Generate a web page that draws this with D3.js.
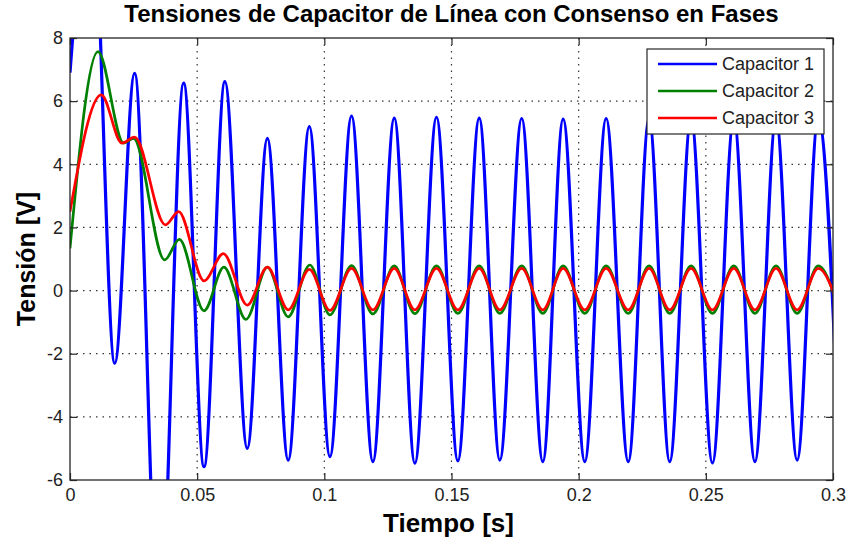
<!DOCTYPE html>
<html>
<head>
<meta charset="utf-8">
<script src="https://cdn.jsdelivr.net/npm/d3@7"></script>
<style>
  body { margin: 0; background: #fff; }
  svg { display: block; font-family: "Liberation Sans", Arial, Helvetica, sans-serif; }
</style>
</head>
<body>
<div id="chart"></div>
<script>
// tick values and labels
var xTicks = [0, 0.05, 0.1, 0.15, 0.2, 0.25, 0.3];
var xTickLabels = ["0", "0.05", "0.1", "0.15", "0.2", "0.25", "0.3"];
var yTicks = [-6, -4, -2, 0, 2, 4, 6, 8];
var yTickLabels = ["-6", "-4", "-2", "0", "2", "4", "6", "8"];

var seriesNames = ["Capacitor 1", "Capacitor 2", "Capacitor 3"];

// turning points (time in s, voltage in V)
var tCap1 = [0, 0.0085, 0.0176, 0.0254, 0.0351, 0.0447, 0.0527, 0.0609, 0.0697, 0.0776,
             0.0858, 0.0941, 0.1022, 0.1107, 0.1191, 0.1275, 0.1356, 0.1441, 0.1525, 0.1609,
             0.1690, 0.1776, 0.1859, 0.1939, 0.2024, 0.2108, 0.2195, 0.2277, 0.2358, 0.2442,
             0.2526, 0.2610, 0.2693, 0.2776, 0.2859, 0.2942, 0.3026];
var vCap1 = [6.9, 13, -2.3, 6.88, -11, 6.57, -5.58, 6.62, -5.0, 4.82,
             -5.37, 5.19, -5.26, 5.53, -5.42, 5.46, -5.47, 5.49, -5.39, 5.46,
             -5.37, 5.45, -5.42, 5.43, -5.42, 5.45, -5.42, 5.44, -5.42, 5.46,
             -5.46, 5.45, -5.42, 5.44, -5.37, 5.46, -5.4];

var tCap2 = [0, 0.0110, 0.0211, 0.0250, 0.0372, 0.0430, 0.0527, 0.0605, 0.0692, 0.0776,
             0.0858, 0.0943, 0.1022, 0.1107, 0.1191, 0.1275, 0.1356, 0.1441, 0.1525, 0.1609,
             0.1690, 0.1776, 0.1859, 0.1939, 0.2024, 0.2108, 0.2195, 0.2277, 0.2358, 0.2442,
             0.2526, 0.2610, 0.2693, 0.2776, 0.2859, 0.2942, 0.3026];
var vCap2 = [1.34, 7.57, 4.67, 4.82, 0.97, 1.62, -0.64, 0.74, -0.91, 0.74,
             -0.83, 0.81, -0.77, 0.79, -0.74, 0.78, -0.73, 0.78, -0.72, 0.78,
             -0.72, 0.78, -0.72, 0.78, -0.72, 0.78, -0.72, 0.78, -0.72, 0.78,
             -0.72, 0.78, -0.72, 0.78, -0.72, 0.78, -0.72];

var tCap3 = [0, 0.0123, 0.0204, 0.0254, 0.0375, 0.0427, 0.0527, 0.0603, 0.0697, 0.0776,
             0.0858, 0.0941, 0.1022, 0.1107, 0.1191, 0.1275, 0.1356, 0.1441, 0.1525, 0.1609,
             0.1690, 0.1776, 0.1859, 0.1939, 0.2024, 0.2108, 0.2195, 0.2277, 0.2358, 0.2442,
             0.2526, 0.2610, 0.2693, 0.2776, 0.2859, 0.2942, 0.3026];
var vCap3 = [2.5, 6.2, 4.67, 4.86, 2.08, 2.5, 0.31, 1.17, -0.46, 0.74,
             -0.61, 0.67, -0.63, 0.70, -0.61, 0.70, -0.61, 0.70, -0.61, 0.70,
             -0.61, 0.70, -0.61, 0.70, -0.61, 0.70, -0.61, 0.70, -0.61, 0.70,
             -0.61, 0.70, -0.61, 0.70, -0.61, 0.70, -0.61];

var colors = ["#0000ff", "#008000", "#ff0000"];

var width = 847, height = 543;
var plotLeft = 70, plotRight = 833, plotTop = 38, plotBottom = 480;

var svg = d3.select("#chart").append("svg").attr("width", width).attr("height", height);

var x = d3.scaleLinear().domain([0, 0.3]).range([plotLeft, plotRight]);
var y = d3.scaleLinear().domain([-6, 8]).range([plotBottom, plotTop]);

svg.append("defs").append("clipPath").attr("id", "plotClip")
   .append("rect").attr("x", plotLeft).attr("y", plotTop)
   .attr("width", plotRight - plotLeft).attr("height", plotBottom - plotTop);

// dotted grid
var grid = svg.append("g").attr("stroke", "#333").attr("stroke-width", 1.2)
              .attr("stroke-dasharray", "1.5,5");
grid.selectAll(".gx").data(xTicks.slice(1, -1)).enter().append("line")
    .attr("x1", function(d) { return x(d); }).attr("x2", function(d) { return x(d); })
    .attr("y1", plotTop).attr("y2", plotBottom);
grid.selectAll(".gy").data(yTicks.slice(1, -1)).enter().append("line")
    .attr("y1", function(d) { return y(d); }).attr("y2", function(d) { return y(d); })
    .attr("x1", plotLeft).attr("x2", plotRight);

// curves
var line = d3.line()
    .x(function(d) { return x(d[0]); })
    .y(function(d) { return y(d[1]); })
    .curve(d3.curveMonotoneX);

var series = [d3.zip(tCap1, vCap1), d3.zip(tCap2, vCap2), d3.zip(tCap3, vCap3)];
var widths = [3.2, 2.7, 2.7];

svg.append("g").attr("clip-path", "url(#plotClip)")
   .selectAll("path").data(series).enter().append("path")
   .attr("d", line)
   .attr("fill", "none")
   .attr("stroke", function(d, i) { return colors[i]; })
   .attr("stroke-width", function(d, i) { return widths[i]; })
   .attr("stroke-linejoin", "round");

// axes, ticks inward on all four sides
var axisColor = "#262626";
var styleAxis = function(g) {
    g.select(".domain").remove();
    g.selectAll(".tick line").attr("stroke", axisColor).attr("stroke-width", 1.2);
    g.selectAll(".tick text").attr("fill", "#222").style("font-size", "18px")
     .style("font-family", "'Liberation Sans', Arial, sans-serif");
};

svg.append("g").attr("transform", "translate(0," + plotBottom + ")")
   .call(d3.axisBottom(x).tickValues(xTicks).tickSize(-7).tickPadding(8)
        .tickFormat(function(d, i) { return xTickLabels[i]; }))
   .call(styleAxis);
svg.append("g").attr("transform", "translate(0," + plotTop + ")")
   .call(d3.axisTop(x).tickValues(xTicks).tickSize(-7).tickFormat(""))
   .call(styleAxis);
svg.append("g").attr("transform", "translate(" + plotLeft + ",0)")
   .call(d3.axisLeft(y).tickValues(yTicks).tickSize(-7).tickPadding(7)
        .tickFormat(function(d, i) { return yTickLabels[i]; }))
   .call(styleAxis);
svg.append("g").attr("transform", "translate(" + plotRight + ",0)")
   .call(d3.axisRight(y).tickValues(yTicks).tickSize(-7).tickFormat(""))
   .call(styleAxis);

svg.append("rect").attr("x", plotLeft).attr("y", plotTop)
   .attr("width", plotRight - plotLeft).attr("height", plotBottom - plotTop)
   .attr("fill", "none").attr("stroke", axisColor).attr("stroke-width", 1.3);

// titles
svg.append("text").attr("x", (plotLeft + plotRight) / 2).attr("y", 22)
   .attr("text-anchor", "middle").attr("font-weight", "bold").attr("font-size", 24)
   .text("Tensiones de Capacitor de Línea con Consenso en Fases");
svg.append("text").attr("x", (plotLeft + plotRight) / 2 - 3).attr("y", 532)
   .attr("text-anchor", "middle").attr("font-weight", "bold").attr("font-size", 26)
   .text("Tiempo [s]");
svg.append("text")
   .attr("transform", "translate(35," + ((plotTop + plotBottom) / 2) + ") rotate(-90)")
   .attr("text-anchor", "middle").attr("font-weight", "bold").attr("font-size", 25)
   .text("Tensión [V]");

// legend
var legend = svg.append("g");
legend.append("rect").attr("x", 647).attr("y", 49).attr("width", 177).attr("height", 85)
      .attr("fill", "#fff").attr("stroke", axisColor).attr("stroke-width", 1.2);
var rows = legend.selectAll(".row").data(seriesNames).enter().append("g")
      .attr("transform", function(d, i) { return "translate(0," + (64 + i * 27) + ")"; });
rows.append("line").attr("x1", 658).attr("x2", 717).attr("y1", 0).attr("y2", 0)
    .attr("stroke", function(d, i) { return colors[i]; }).attr("stroke-width", 2.5);
rows.append("text").attr("x", 722).attr("dy", "0.36em").attr("font-size", 18)
    .attr("fill", "#222").text(function(d) { return d; });
</script>
</body>
</html>
